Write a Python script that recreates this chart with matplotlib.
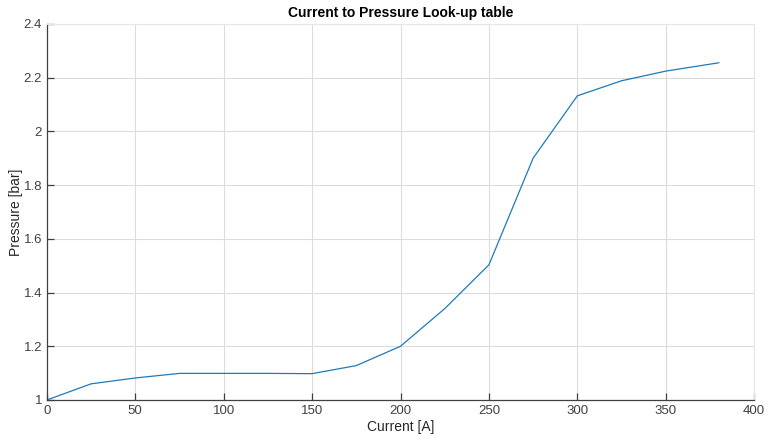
import numpy as np
import matplotlib.pyplot as plt

plt.rcParams['font.family'] = ['Liberation Sans', 'DejaVu Sans']

# 查表数据
current = [0, 25, 50, 75, 100, 125, 150, 175, 200, 225, 250, 275, 300, 325, 350, 380]
pressure = [1.0, 1.06, 1.082, 1.099, 1.099, 1.099, 1.098, 1.128, 1.2, 1.34, 1.503,
            1.9, 2.132, 2.188, 2.224, 2.255]

xticks = [0, 50, 100, 150, 200, 250, 300, 350, 400]
yticks = [1, 1.2, 1.4, 1.6, 1.8, 2, 2.2, 2.4]
ytick_labels = ['1', '1.2', '1.4', '1.6', '1.8', '2', '2.2', '2.4']

fig = plt.figure(figsize=(7.68, 4.41), dpi=100)
ax = fig.add_axes([0.061, 0.093, 0.921, 0.853])

ax.plot(current, pressure, color='#1f7ab8', linewidth=0.9)

ax.set_xlim(0, 400)
ax.set_ylim(1, 2.4)
ax.set_xticks(xticks)
ax.set_yticks(yticks)
ax.set_yticklabels(ytick_labels)
ax.grid(True, color='#dcdcdc', linewidth=0.8)
ax.set_axisbelow(True)

for s in ['top', 'right']:
    ax.spines[s].set_color('#e6e6e6')
    ax.spines[s].set_linewidth(0.8)
for s in ['left', 'bottom']:
    ax.spines[s].set_color('#404040')
    ax.spines[s].set_linewidth(0.9)

ax.tick_params(direction='in', length=5, width=0.9, colors='#404040',
               labelsize=9.5, top=False, right=False)

ax.set_title('Current to Pressure Look-up table', fontsize=10, fontweight='bold', pad=5)
ax.set_xlabel('Current [A]', fontsize=10, color='#262626', labelpad=2)
ax.set_ylabel('Pressure [bar]', fontsize=10, color='#262626', labelpad=0)

fig.savefig('out.png', dpi=100)
